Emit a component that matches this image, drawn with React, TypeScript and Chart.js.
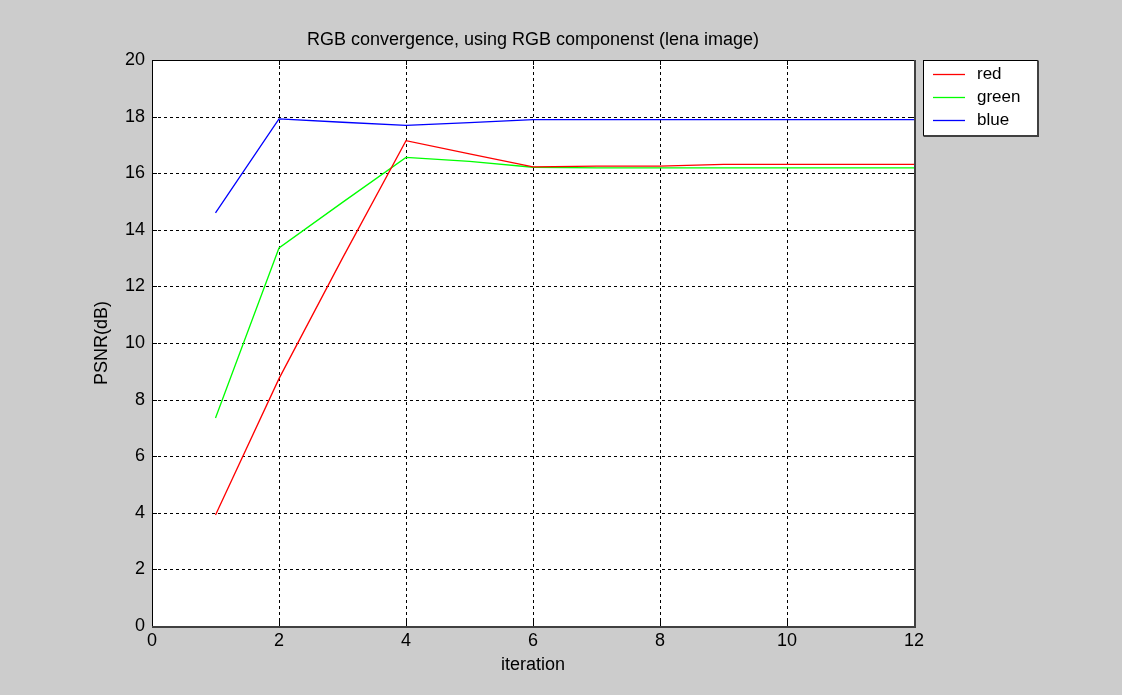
import React, { useEffect, useRef } from "react";
import { Chart, registerables } from "chart.js";

Chart.register(...registerables);

const iterations = [1, 2, 3, 4, 5, 6, 7, 8, 9, 10, 11, 12];
const redValues = [3.92, 8.74, 13.0, 17.15, 16.68, 16.22, 16.25, 16.25, 16.31, 16.31, 16.31, 16.31];
const greenValues = [7.35, 13.36, 14.97, 16.56, 16.42, 16.21, 16.19, 16.19, 16.19, 16.19, 16.19, 16.19];
const blueValues = [14.6, 17.92, 17.8, 17.69, 17.79, 17.89, 17.89, 17.89, 17.89, 17.89, 17.89, 17.89];
const seriesNames = ["red", "green", "blue"];
const seriesColors = ["#ff0000", "#00ff00", "#0000ff"];
const xTicks = [0, 2, 4, 6, 8, 10, 12];
const yTicks = [0, 2, 4, 6, 8, 10, 12, 14, 16, 18, 20];
const titleText = "RGB convergence, using RGB componenst (lena image)";
const xLabel = "iteration";
const yLabel = "PSNR(dB)";

const FONT = "'Liberation Sans', Arial, sans-serif";

const matlabPlugin = {
  id: "matlabLook",
  beforeDraw(chart: any) {
    const { ctx, chartArea } = chart;
    ctx.save();
    ctx.fillStyle = "#cccccc";
    ctx.fillRect(0, 0, chart.width, chart.height);
    ctx.fillStyle = "#ffffff";
    ctx.fillRect(chartArea.left, chartArea.top, chartArea.right - chartArea.left, chartArea.bottom - chartArea.top);
    ctx.restore();
  },
  beforeDatasetsDraw(chart: any) {
    const { ctx, chartArea, scales } = chart;
    const { left, right, top, bottom } = chartArea;
    ctx.save();
    ctx.strokeStyle = "#000000";
    ctx.lineWidth = 1;
    ctx.setLineDash([3, 3]);
    xTicks.forEach((v) => {
      const px = Math.round(scales.x.getPixelForValue(v)) + 0.5;
      ctx.beginPath();
      ctx.moveTo(px, top);
      ctx.lineTo(px, bottom);
      ctx.stroke();
    });
    yTicks.forEach((v) => {
      const py = Math.round(scales.y.getPixelForValue(v)) + 0.5;
      ctx.beginPath();
      ctx.moveTo(left, py);
      ctx.lineTo(right, py);
      ctx.stroke();
    });
    ctx.restore();
  },
  afterDatasetsDraw(chart: any) {
    const { ctx, chartArea, scales } = chart;
    const { left, right, top, bottom } = chartArea;
    ctx.save();
    ctx.setLineDash([]);
    ctx.strokeStyle = "#000000";
    ctx.lineWidth = 1;
    const tl = 5;
    xTicks.forEach((v) => {
      const px = Math.round(scales.x.getPixelForValue(v)) + 0.5;
      ctx.beginPath();
      ctx.moveTo(px, bottom);
      ctx.lineTo(px, bottom - tl);
      ctx.moveTo(px, top);
      ctx.lineTo(px, top + tl);
      ctx.stroke();
    });
    yTicks.forEach((v) => {
      const py = Math.round(scales.y.getPixelForValue(v)) + 0.5;
      ctx.beginPath();
      ctx.moveTo(left, py);
      ctx.lineTo(left + tl, py);
      ctx.moveTo(right, py);
      ctx.lineTo(right - tl, py);
      ctx.stroke();
    });
    ctx.lineWidth = 1;
    ctx.strokeRect(Math.round(left) + 0.5, Math.round(top) + 0.5, Math.round(right - left), Math.round(bottom - top));
    ctx.strokeStyle = "#404040";
    ctx.lineWidth = 2;
    ctx.beginPath();
    ctx.moveTo(Math.round(left), Math.round(bottom) + 1);
    ctx.lineTo(Math.round(right) + 1, Math.round(bottom) + 1);
    ctx.lineTo(Math.round(right) + 1, Math.round(top));
    ctx.stroke();
    ctx.restore();
  },
  afterDraw(chart: any) {
    const { ctx, chartArea } = chart;
    ctx.save();
    ctx.fillStyle = "#000000";
    ctx.font = `18px ${FONT}`;
    ctx.textAlign = "center";
    ctx.textBaseline = "middle";
    ctx.fillText(titleText, (chartArea.left + chartArea.right) / 2, 40);

    // legend
    const lx = 923.5, ly = 60.5, lw = 114, lh = 75;
    ctx.fillStyle = "#ffffff";
    ctx.fillRect(lx, ly, lw, lh);
    ctx.strokeStyle = "#000000";
    ctx.lineWidth = 1;
    ctx.strokeRect(lx, ly, lw, lh);
    ctx.strokeStyle = "#404040";
    ctx.lineWidth = 2;
    ctx.beginPath();
    ctx.moveTo(lx, ly + lh + 0.5);
    ctx.lineTo(lx + lw + 0.5, ly + lh + 0.5);
    ctx.lineTo(lx + lw + 0.5, ly);
    ctx.stroke();
    ctx.font = `17px ${FONT}`;
    ctx.textAlign = "left";
    seriesNames.forEach((name, i) => {
      const y = 74.5 + i * 23;
      ctx.strokeStyle = seriesColors[i];
      ctx.lineWidth = 1.3;
      ctx.beginPath();
      ctx.moveTo(933, y);
      ctx.lineTo(965, y);
      ctx.stroke();
      ctx.fillStyle = "#000000";
      ctx.fillText(name, 977, y);
    });
    ctx.restore();
  },
};

export default function App() {
  const canvasRef = useRef<HTMLCanvasElement | null>(null);

  useEffect(() => {
    const canvas = canvasRef.current;
    if (!canvas) return;
    const seriesValues = [redValues, greenValues, blueValues];
    const chart = new Chart(canvas, {
      type: "line",
      data: {
        datasets: seriesValues.map((vals, i) => ({
          label: seriesNames[i],
          data: iterations.map((x, j) => ({ x, y: vals[j] })),
          borderColor: seriesColors[i],
          backgroundColor: seriesColors[i],
          borderWidth: 1.3,
          pointRadius: 0,
          tension: 0,
          fill: false,
        })),
      },
      options: {
        responsive: false,
        animation: false,
        devicePixelRatio: 1,
        layout: { padding: { left: 0, top: 60, right: 208, bottom: 0 } },
        plugins: {
          legend: { display: false },
          title: { display: false },
          tooltip: { enabled: false },
        },
        scales: {
          x: {
            type: "linear",
            min: 0,
            max: 12,
            afterBuildTicks: (scale: any) => {
              scale.ticks = xTicks.map((v) => ({ value: v }));
            },
            afterFit: (scale: any) => {
              scale.height = 69;
            },
            grid: { display: false, drawTicks: false },
            border: { display: false },
            ticks: {
              color: "#000000",
              font: { family: FONT, size: 18 },
              padding: 4,
              maxRotation: 0,
            },
            title: {
              display: true,
              text: xLabel,
              color: "#000000",
              font: { family: FONT, size: 18 },
              padding: { top: 0, bottom: 19 },
            },
          },
          y: {
            type: "linear",
            min: 0,
            max: 20,
            afterBuildTicks: (scale: any) => {
              scale.ticks = yTicks.map((v) => ({ value: v }));
            },
            afterFit: (scale: any) => {
              scale.width = 152;
            },
            grid: { display: false, drawTicks: false },
            border: { display: false },
            ticks: {
              color: "#000000",
              font: { family: FONT, size: 18 },
              padding: 7,
            },
            title: {
              display: true,
              text: yLabel,
              color: "#000000",
              font: { family: FONT, size: 18 },
              padding: { top: 91, bottom: 0 },
            },
          },
        },
      },
      plugins: [matlabPlugin],
    } as any);
    return () => chart.destroy();
  }, []);

  return (
    <div style={{ position: "fixed", left: 0, top: 0, width: 1122, height: 695, background: "#cccccc" }}>
      <canvas ref={canvasRef} width={1122} height={695} style={{ display: "block", width: 1122, height: 695 }} />
    </div>
  );
}
